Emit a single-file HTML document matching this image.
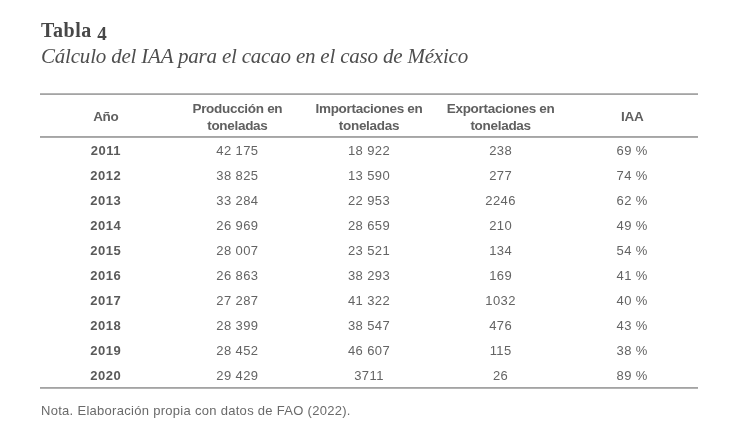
<!DOCTYPE html>
<html><head><meta charset="utf-8">
<style>
html,body{margin:0;padding:0;background:#fff;width:739px;height:440px;overflow:hidden;position:relative}
body{font-family:"Liberation Sans",sans-serif;color:#555}
#wrap{position:absolute;left:0;top:0;width:739px;height:440px;will-change:transform}
.a{position:absolute;white-space:nowrap}
.t1{left:41px;top:19px;font-family:"Liberation Serif",serif;font-weight:bold;font-size:20px;line-height:22px;color:#474747;letter-spacing:.5px}
.t2{left:41px;top:45px;font-family:"Liberation Serif",serif;font-style:italic;font-size:21px;line-height:22px;color:#4e4e4e;letter-spacing:-.2px}
.rule{position:absolute;left:40px;width:658px;height:2px;background:#a9a9a9}
.r1{background:linear-gradient(#b6b6b6 50%,#a4a4a4 50%)}
.r2{background:linear-gradient(#a5a5a5 50%,#acacac 50%)}
.r3{background:linear-gradient(#a3a3a3 50%,#b3b3b3 50%)}
.h{position:absolute;width:200px;text-align:center;font-size:13.5px;line-height:17px;color:#606060;font-weight:bold;white-space:nowrap;letter-spacing:-.3px}
.c{position:absolute;width:200px;text-align:center;font-size:13px;line-height:25px;color:#646464;white-space:nowrap;letter-spacing:.4px}
.yr{color:#5a5a5a;font-weight:bold;letter-spacing:.5px}
.note{left:41px;top:403px;font-size:13px;line-height:16px;color:#6a6a6a;letter-spacing:.29px}
</style></head><body><div id="wrap">
<div class="a t1">Tabla <span style="font-size:19px;position:relative;top:2.5px">4</span></div>
<div class="a t2">Cálculo del IAA para el cacao en el caso de México</div>
<div class="rule r1" style="top:93px"></div>
<div class="rule r2" style="top:136px"></div>
<div class="rule r3" style="top:387px"></div>
<div class="h" style="left:5.8px;top:108px">Año</div>
<div class="h" style="left:137.4px;top:100px">Producción en<br>toneladas</div>
<div class="h" style="left:269.0px;top:100px">Importaciones en<br>toneladas</div>
<div class="h" style="left:400.6px;top:100px">Exportaciones en<br>toneladas</div>
<div class="h" style="left:532.2px;top:108px">IAA</div>
<div class="c yr" style="left:5.8px;top:138px">2011</div>
<div class="c" style="left:137.4px;top:138px">42 175</div>
<div class="c" style="left:269.0px;top:138px">18 922</div>
<div class="c" style="left:400.6px;top:138px">238</div>
<div class="c" style="left:532.2px;top:138px">69 %</div>
<div class="c yr" style="left:5.8px;top:163px">2012</div>
<div class="c" style="left:137.4px;top:163px">38 825</div>
<div class="c" style="left:269.0px;top:163px">13 590</div>
<div class="c" style="left:400.6px;top:163px">277</div>
<div class="c" style="left:532.2px;top:163px">74 %</div>
<div class="c yr" style="left:5.8px;top:188px">2013</div>
<div class="c" style="left:137.4px;top:188px">33 284</div>
<div class="c" style="left:269.0px;top:188px">22 953</div>
<div class="c" style="left:400.6px;top:188px">2246</div>
<div class="c" style="left:532.2px;top:188px">62 %</div>
<div class="c yr" style="left:5.8px;top:213px">2014</div>
<div class="c" style="left:137.4px;top:213px">26 969</div>
<div class="c" style="left:269.0px;top:213px">28 659</div>
<div class="c" style="left:400.6px;top:213px">210</div>
<div class="c" style="left:532.2px;top:213px">49 %</div>
<div class="c yr" style="left:5.8px;top:238px">2015</div>
<div class="c" style="left:137.4px;top:238px">28 007</div>
<div class="c" style="left:269.0px;top:238px">23 521</div>
<div class="c" style="left:400.6px;top:238px">134</div>
<div class="c" style="left:532.2px;top:238px">54 %</div>
<div class="c yr" style="left:5.8px;top:263px">2016</div>
<div class="c" style="left:137.4px;top:263px">26 863</div>
<div class="c" style="left:269.0px;top:263px">38 293</div>
<div class="c" style="left:400.6px;top:263px">169</div>
<div class="c" style="left:532.2px;top:263px">41 %</div>
<div class="c yr" style="left:5.8px;top:288px">2017</div>
<div class="c" style="left:137.4px;top:288px">27 287</div>
<div class="c" style="left:269.0px;top:288px">41 322</div>
<div class="c" style="left:400.6px;top:288px">1032</div>
<div class="c" style="left:532.2px;top:288px">40 %</div>
<div class="c yr" style="left:5.8px;top:313px">2018</div>
<div class="c" style="left:137.4px;top:313px">28 399</div>
<div class="c" style="left:269.0px;top:313px">38 547</div>
<div class="c" style="left:400.6px;top:313px">476</div>
<div class="c" style="left:532.2px;top:313px">43 %</div>
<div class="c yr" style="left:5.8px;top:338px">2019</div>
<div class="c" style="left:137.4px;top:338px">28 452</div>
<div class="c" style="left:269.0px;top:338px">46 607</div>
<div class="c" style="left:400.6px;top:338px">115</div>
<div class="c" style="left:532.2px;top:338px">38 %</div>
<div class="c yr" style="left:5.8px;top:363px">2020</div>
<div class="c" style="left:137.4px;top:363px">29 429</div>
<div class="c" style="left:269.0px;top:363px">3711</div>
<div class="c" style="left:400.6px;top:363px">26</div>
<div class="c" style="left:532.2px;top:363px">89 %</div>
<div class="note a">Nota. Elaboración propia con datos de FAO (2022).</div>
</div></body></html>
